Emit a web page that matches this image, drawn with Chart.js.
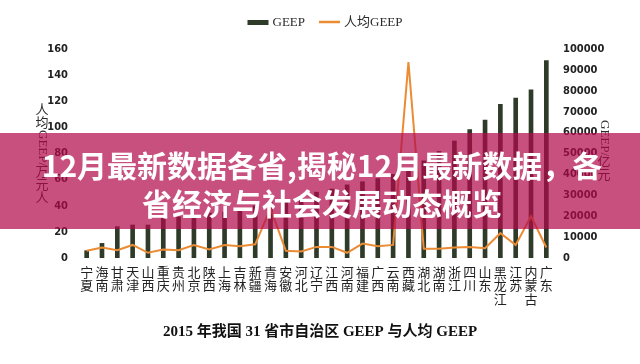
<!DOCTYPE html>
<html>
<head>
<meta charset="utf-8">
<script src="https://cdn.jsdelivr.net/npm/chart.js@4"></script>
<style>
  body { margin: 0; background: #fff; }
  #wrap { position: relative; width: 640px; height: 364px; overflow: hidden; }
  .banner {
    position: absolute; left: 0; top: 133px; width: 640px; height: 96px;
    background: rgba(177, 9, 75, 0.71);
    color: #fff; font: bold 30px "Noto Sans CJK SC", sans-serif;
    text-align: center; line-height: 38px; padding-top: 12px; box-sizing: border-box;
  }
  .banner div { white-space: nowrap; padding-left: 4px; }
</style>
</head>
<body>
<div id="wrap">
  <canvas id="chart" width="640" height="364"></canvas>
  <div class="banner">
    <div>12月最新数据各省,揭秘12月最新数据，各</div>
    <div>省经济与社会发展动态概览</div>
  </div>
</div>
<script>
const categories = ["宁夏", "海南", "甘肃", "天津", "山西", "重庆", "贵州", "北京", "陕西", "上海",
  "吉林", "新疆", "青海", "安徽", "河北", "辽宁", "江西", "河南", "福建", "广西",
  "云南", "西藏", "湖北", "湖南", "浙江", "四川", "山东", "黑龙江", "江苏", "内蒙古", "广东"];
// GEEP, 亿元 (right axis)
const geep = [3500, 7000, 15000, 15800, 15800, 19000, 19700, 20300, 21500, 22000,
  23500, 25000, 26500, 28000, 30000, 31500, 33000, 35000, 36500, 38000,
  40000, 42000, 46500, 51000, 56000, 61500, 66000, 73500, 76500, 80500, 94500];
// 人均GEEP, 万元/人 (left axis)
const geepPerCapita = [5.5, 8, 6, 10, 4, 6.5, 6, 10, 6.5, 10,
  9, 10.5, 38, 5.5, 5, 8.5, 8.5, 4, 11, 9,
  10, 150, 7, 7, 8, 8.5, 7.5, 19, 10, 32, 8];
const leftTicks = [0, 20, 40, 60, 80, 100, 120, 140, 160];
const rightTicks = [0, 10000, 20000, 30000, 40000, 50000, 60000, 70000, 80000, 90000, 100000];

const barColor = "#2e3b29";
const lineColor = "#eb8c34";
const serif = '"Liberation Serif", "Noto Sans CJK SC", serif';

function drawVerticalTitle(ctx, x, y, parts, size) {
  ctx.font = `${size}px ${serif}`;
  ctx.textBaseline = "middle";
  for (const part of parts) {
    if (part.rotate) {
      const w = ctx.measureText(part.text).width;
      ctx.save();
      ctx.translate(x, y);
      ctx.rotate(Math.PI / 2);
      ctx.textAlign = "left";
      ctx.fillText(part.text, 0, 0);
      ctx.restore();
      y += w;
    } else {
      ctx.textAlign = "center";
      for (const ch of part.text) {
        ctx.fillText(ch, x, y + size / 2);
        y += size;
      }
    }
  }
}

const decorPlugin = {
  id: "decor",
  afterDraw(chart) {
    const ctx = chart.ctx;
    const area = chart.chartArea;
    ctx.save();
    ctx.fillStyle = "#2a2a2a";

    // legend
    ctx.font = `13px ${serif}`;
    ctx.textBaseline = "middle";
    ctx.textAlign = "left";
    const w1 = ctx.measureText("GEEP").width;
    const w2 = ctx.measureText("人均GEEP").width;
    const total = 21 + 4 + w1 + 14 + 21 + 4 + w2;
    let x = 325 - total / 2;
    const y = 22.5;
    ctx.fillStyle = barColor;
    ctx.fillRect(x, y - 2.5, 21, 5);
    x += 25;
    ctx.fillStyle = "#2a2a2a";
    ctx.fillText("GEEP", x, y);
    x += w1 + 14;
    ctx.strokeStyle = lineColor;
    ctx.lineWidth = 2.5;
    ctx.beginPath();
    ctx.moveTo(x, y - 0.5);
    ctx.lineTo(x + 21, y - 0.5);
    ctx.stroke();
    x += 25;
    ctx.fillText("人均GEEP", x, y);

    // axis titles
    drawVerticalTitle(ctx, area.left - 37, 104,
      [{ text: "人均" }, { text: "GEEP/", rotate: true }, { text: "万元人" }], 13);
    drawVerticalTitle(ctx, area.right + 50, 120,
      [{ text: "GEEP/", rotate: true }, { text: "亿元" }], 13);
    ctx.restore();
  },
};

const ctx = document.getElementById("chart");
const data = {
  labels: categories,
  datasets: [
    {
      type: "line",
      label: "人均GEEP",
      data: geepPerCapita,
      yAxisID: "y",
      borderColor: lineColor,
      borderWidth: 2,
      pointRadius: 0,
      tension: 0,
      order: 0,
    },
    {
      type: "bar",
      label: "GEEP",
      data: geep,
      yAxisID: "y1",
      backgroundColor: barColor,
      barThickness: 4,
      order: 1,
    },
  ],
};

const tickFont = { family: '"Liberation Sans Narrow", "DejaVu Sans Condensed", sans-serif', size: 11, weight: "bold" };

const config = {
  data: data,
  options: {
    responsive: false,
    animation: false,
    layout: { padding: { top: 49, left: 0, right: 0, bottom: 0 } },
    scales: {
      x: {
        grid: { display: false, drawTicks: false },
        border: { display: false },
        ticks: {
          autoSkip: false,
          maxRotation: 0,
          padding: 7,
          color: "#222",
          font: { family: '"Noto Sans CJK SC", sans-serif', size: 13, lineHeight: 1.05 },
          callback: function (value) {
            return this.getLabelForValue(value).split("");
          },
        },
        afterFit: (scale) => { scale.height = 50; },
      },
      y: {
        position: "left",
        min: leftTicks[0],
        max: leftTicks[leftTicks.length - 1],
        grid: { display: false, drawTicks: false },
        border: { display: false },
        ticks: { stepSize: leftTicks[1] - leftTicks[0], padding: 11, color: "#222", font: tickFont },
        afterFit: (scale) => { scale.width = 79; },
      },
      y1: {
        position: "right",
        min: rightTicks[0],
        max: rightTicks[rightTicks.length - 1],
        grid: { display: false, drawTicks: false },
        border: { display: false },
        ticks: {
          stepSize: rightTicks[1] - rightTicks[0],
          padding: 9,
          color: "#222",
          font: tickFont,
          callback: (value) => String(value),
        },
        afterFit: (scale) => { scale.width = 86; },
      },
    },
    plugins: {
      legend: { display: false },
      tooltip: { enabled: false },
      title: {
        display: true,
        position: "bottom",
        text: "2015 年我国 31 省市自治区 GEEP 与人均 GEEP",
        color: "#111",
        font: { family: serif, size: 15, weight: "bold", lineHeight: 1.2 },
        padding: { top: 15, bottom: 23 },
      },
    },
  },
  plugins: [decorPlugin],
};

new Chart(ctx, config);
</script>
</body>
</html>
